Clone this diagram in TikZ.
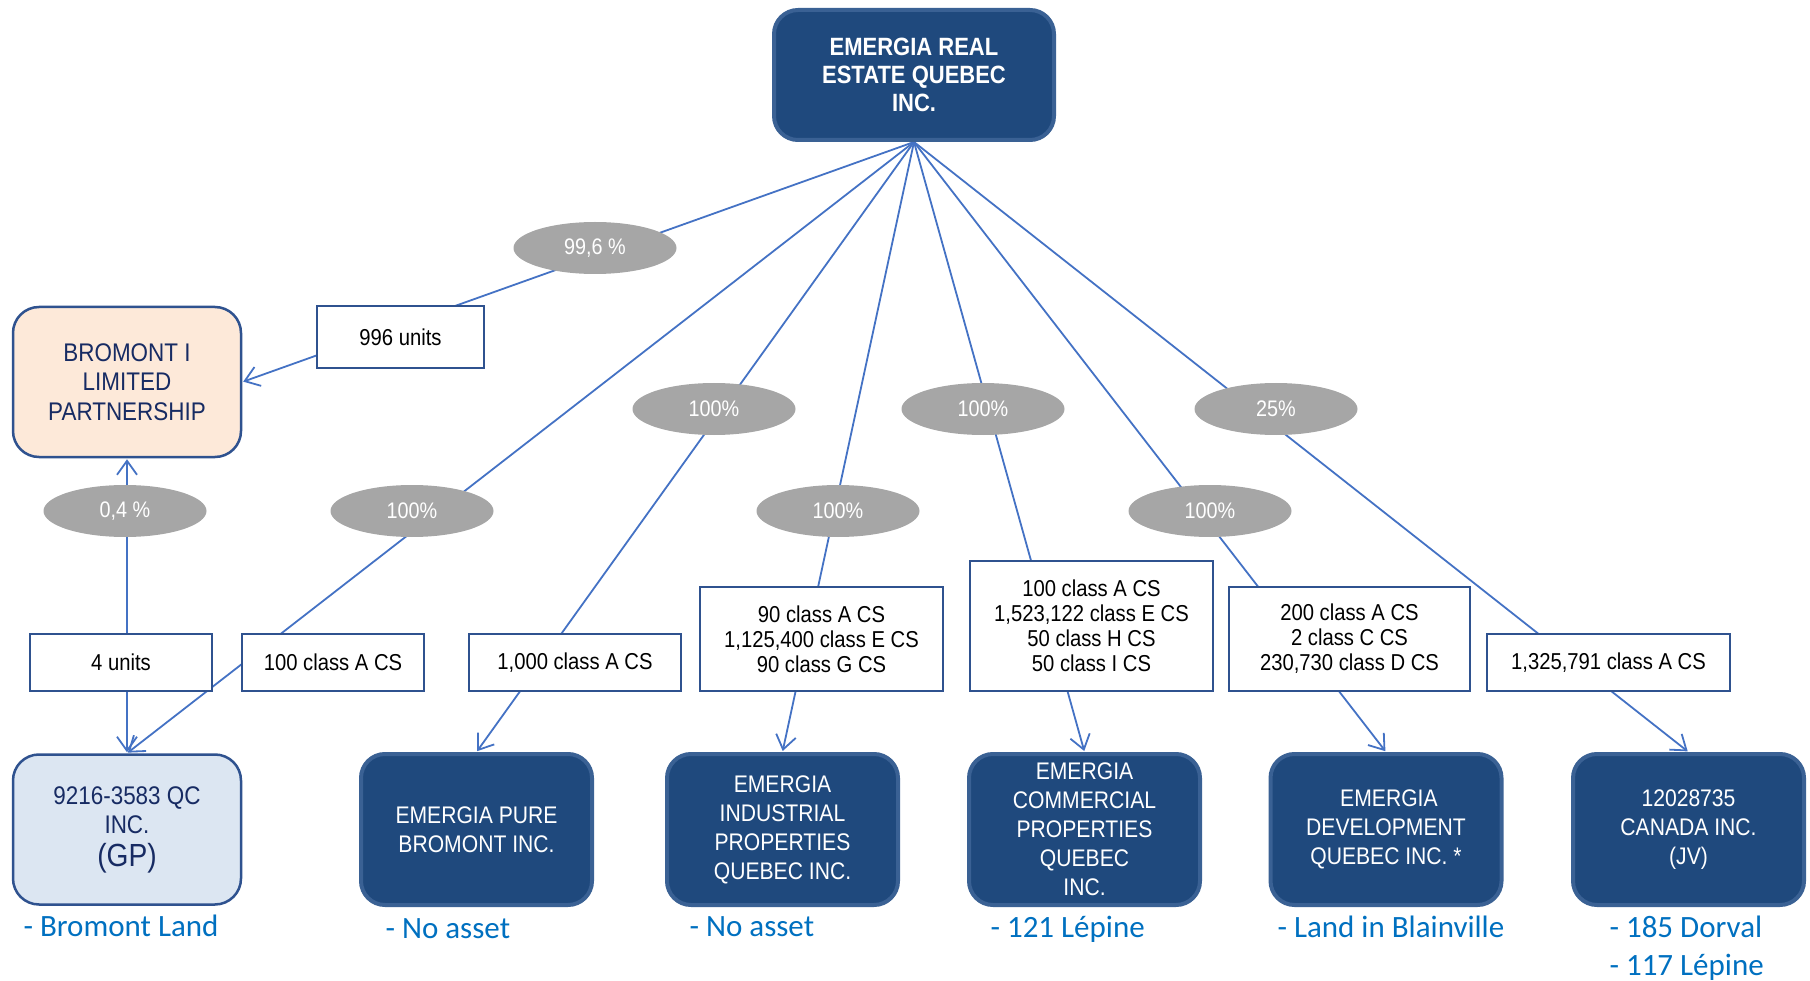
\documentclass[tikz,border=0pt]{standalone}
\usepackage{fontspec}
\setmainfont[FakeStretch=0.88]{Liberation Sans}
\newfontfamily\labfont{Carlito}
\usetikzlibrary{arrows.meta,shapes.geometric}
\definecolor{navy}{HTML}{1F497D}
\definecolor{navyedge}{HTML}{3A6194}
\definecolor{connc}{HTML}{4472C4}
\definecolor{boxedge}{HTML}{2F528F}
\definecolor{pctgray}{HTML}{A6A6A6}
\definecolor{peach}{HTML}{FDE9D9}
\definecolor{lightblue}{HTML}{DCE6F2}
\definecolor{darktext}{HTML}{172B63}
\definecolor{asset}{HTML}{0070C0}
\pgfdeclarelayer{bg}
\pgfsetlayers{bg,main}
\begin{document}
\begin{tikzpicture}[x=1pt,y=-1pt,
  darkbox/.style={draw=navyedge, line width=4pt, fill=navy, rounded corners=24pt,
    text=white, minimum width=231pt, minimum height=151pt, inner sep=0pt,
    align=center, font=\fontsize{24}{29}\selectfont},
  lightbox/.style={draw=boxedge, line width=2.5pt, rounded corners=26pt,
    text=darktext, minimum width=228pt, minimum height=150pt, inner sep=0pt,
    align=center, font=\fontsize{25.5}{29.5}\selectfont},
  sharebox/.style={draw=boxedge, line width=2.5pt, fill=white, inner sep=0pt,
    align=center, font=\fontsize{23}{25}\selectfont},
  pct/.style={ellipse, fill=pctgray, text=white, minimum width=163pt,
    minimum height=52pt, inner sep=0pt, font=\fontsize{22.5}{24}\selectfont},
  conn/.style={draw=connc, line width=1.8pt, -{Straight Barb[length=14pt,width=20pt]}, shorten >=1pt},
  assetlbl/.style={anchor=base west, text=asset, font=\labfont\fontsize{31}{39}\selectfont}
]
\useasboundingbox (0,0) rectangle (1810,981);

% top company
\node[draw=navyedge, line width=4pt, fill=navy, rounded corners=24pt, text=white,
  minimum width=280pt, minimum height=130pt, inner sep=0pt, align=center,
  font=\bfseries\fontsize{25}{28}\selectfont] (top) at (914,75)
  {EMERGIA REAL\\ESTATE QUEBEC\\INC.};

% partnership
\node[lightbox, fill=peach] (lp) at (127,382) {BROMONT I\\LIMITED\\PARTNERSHIP};

% bottom companies
\node[lightbox, fill=lightblue] (gp) at (127,829.5)
  {9216-3583 QC\\INC.\\[3pt]{\fontsize{32}{34}\selectfont(GP)}};
\node[darkbox] (pure) at (476.5,829.5) {EMERGIA PURE\\BROMONT INC.};
\node[darkbox] (ind) at (782.5,829.5) {EMERGIA\\INDUSTRIAL\\PROPERTIES\\QUEBEC INC.};
\node[darkbox] (com) at (1084.5,829.5) {EMERGIA\\COMMERCIAL\\PROPERTIES\\QUEBEC\\INC.};
\node[darkbox] (dev) at (1386,829.5) {\ EMERGIA\\DEVELOPMENT\\QUEBEC INC. *};
\node[darkbox] (jv) at (1688.5,829.5) {12028735\\CANADA INC.\\(JV)};

% share boxes
\node[sharebox, minimum width=167pt, minimum height=62pt] (u996) at (400.5,337) {996 units};
\node[sharebox, minimum width=182pt, minimum height=57pt] (u4) at (121,662.5) {4 units};
\node[sharebox, minimum width=182pt, minimum height=57pt] (c100) at (333,662.5) {100 class A CS};
\node[sharebox, minimum width=212pt, minimum height=57pt] (c1000) at (575,662.5) {1,000 class A CS};
\node[sharebox, minimum width=243pt, minimum height=104pt] (c90) at (821.5,639)
  {90 class A CS\\1,125,400 class E CS\\90 class G CS};
\node[sharebox, minimum width=243pt, minimum height=130pt] (c4l) at (1091.5,626)
  {100 class A CS\\1,523,122 class E CS\\50 class H CS\\50 class I CS};
\node[sharebox, minimum width=241pt, minimum height=104pt] (c200) at (1349.5,639)
  {200 class A CS\\2 class C CS\\230,730 class D CS};
\node[sharebox, minimum width=243pt, minimum height=57pt] (c1325) at (1608.5,662.5) {1,325,791 class A CS};

% percentages
\node[pct] (p996) at (595,248) {99,6 \%};
\node[pct] (p1) at (714,409) {100\%};
\node[pct] (p2) at (983,409) {100\%};
\node[pct] (p25) at (1276,409) {25\%};
\node[pct] (p04) at (125,511) {0,4 \%};
\node[pct] (p3) at (412,511) {100\%};
\node[pct] (p4) at (838,511) {100\%};
\node[pct] (p5) at (1210,511) {100\%};

% connectors
\begin{pgfonlayer}{bg}
\draw[conn] (top.south) -- (lp.east);
\draw[conn] (top.south) -- (gp.north);
\draw[conn] (top.south) -- (pure.north);
\draw[conn] (top.south) -- (ind.north);
\draw[conn] (top.south) -- (com.north);
\draw[conn] (top.south) -- (dev.north);
\draw[conn] (top.south) -- (jv.north);
\draw[conn, {Straight Barb[length=14pt,width=20pt]}-{Straight Barb[length=14pt,width=20pt]}, shorten <=1pt]
  (gp.north) -- (lp.south);
\end{pgfonlayer}

% assets
\node[assetlbl] (a1) at (20,936) {- Bromont Land};
\node[assetlbl] (a2) at (382,938) {- No asset};
\node[assetlbl] (a3) at (686,936) {- No asset};
\node[assetlbl] (a4) at (987,937) {- 121 Lépine};
\node[assetlbl] (a5) at (1274,937) {- Land in Blainville};
\node[assetlbl] (a6) at (1606,937) {- 185 Dorval};
\node[assetlbl] (a7) at (1606,975) {- 117 Lépine};
\end{tikzpicture}
\end{document}
